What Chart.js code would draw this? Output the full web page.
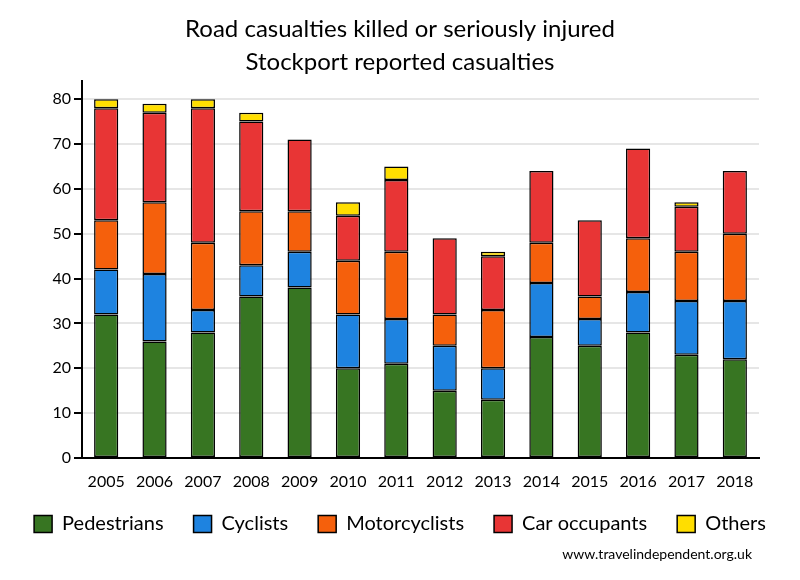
<!DOCTYPE html>
<html>
<head>
<meta charset="utf-8">
<script src="https://cdn.jsdelivr.net/npm/chart.js@4"></script>
<style>
  html, body { margin:0; padding:0; background:#fff; }
  #wrap { width:800px; height:580px; }
</style>
</head>
<body>
<div id="wrap"><canvas id="chart" width="800" height="580"></canvas></div>
<script>
const years = ["2005","2006","2007","2008","2009","2010","2011","2012","2013","2014","2015","2016","2017","2018"]
const pedestrians   = [32, 26, 28, 36, 38, 20, 21, 15, 13, 27, 25, 28, 23, 22]
const cyclists      = [10, 15,  5,  7,  8, 12, 10, 10,  7, 12,  6,  9, 12, 13]
const motorcyclists = [11, 16, 15, 12,  9, 12, 15,  7, 13,  9,  5, 12, 11, 15]
const carOccupants  = [25, 20, 30, 20, 16, 10, 16, 17, 12, 16, 17, 20, 10, 14]
const others        = [ 2,  2,  2,  2,  0,  3,  3,  0,  1,  0,  0,  0,  1,  0]
const yTicks = [0, 10, 20, 30, 40, 50, 60, 70, 80]
const sourceText = "www.travelindependent.org.uk"

const font = "Lato, 'Open Sans', sans-serif"

function series(label, data, color){
    return { label, data, backgroundColor:color, borderColor:'#000', borderWidth:1.5,
             borderSkipped:false, barPercentage:0.5, categoryPercentage:1.0 }
}

// source credit bottom right, and nudge the legend up a little
const extrasPlugin = {
    id:'extras',
    afterLayout(chart){
        chart.legend.top -= 10
        chart.legend.bottom -= 10
    },
    afterDraw(chart){
        const ctx = chart.ctx
        ctx.save()
        ctx.font = "14px " + font
        ctx.fillStyle = '#000'
        ctx.textAlign = 'right'
        ctx.textBaseline = 'middle'
        ctx.fillText(sourceText, 752, 554)
        ctx.restore()
    }
}

new Chart(document.getElementById("chart"), {
    type:'bar',
    data:{
        labels: years,
        datasets:[
            series('Pedestrians', pedestrians, '#377522'),
            series('Cyclists', cyclists, '#1e83e0'),
            series('Motorcyclists', motorcyclists, '#f5600c'),
            series('Car occupants', carOccupants, '#e83535'),
            series('Others', others, '#ffde00')
        ]
    },
    plugins:[extrasPlugin],
    options:{
        responsive:false,
        animation:false,
        layout:{ padding:{ left:0, right:0, top:0, bottom:26 } },
        plugins:{
            title:{ display:true, text:['Road casualties killed or seriously injured','Stockport reported casualties'],
                    color:'#000', font:{ family:font, size:24, weight:'normal', lineHeight:1.38 },
                    padding:{ top:13, bottom:2 } },
            legend:{ position:'bottom',
                     labels:{ color:'#000', boxWidth:18, boxHeight:17, padding:30,
                              font:{ family:font, size:20 } } },
            tooltip:{ enabled:false }
        },
        scales:{
            x:{ stacked:true,
                afterFit(scale){ scale.paddingRight = 41; scale.height = 36 },
                grid:{ display:false, drawTicks:false },
                border:{ color:'#000', width:2 },
                ticks:{ color:'#000', font:{ family:font, size:16 }, padding:14, maxRotation:0 } },
            y:{ stacked:true, min:0, max:84,
                afterBuildTicks(scale){ scale.ticks = yTicks.map(v => ({ value:v })) },
                afterFit(scale){ scale.width = 82 },
                grid:{ color:'#e6e6e6', lineWidth:2, tickColor:'#000', tickLength:8 },
                border:{ color:'#000', width:2 },
                ticks:{ color:'#000', font:{ family:font, size:16 }, padding:3 } }
        }
    }
})
</script>
</body>
</html>
